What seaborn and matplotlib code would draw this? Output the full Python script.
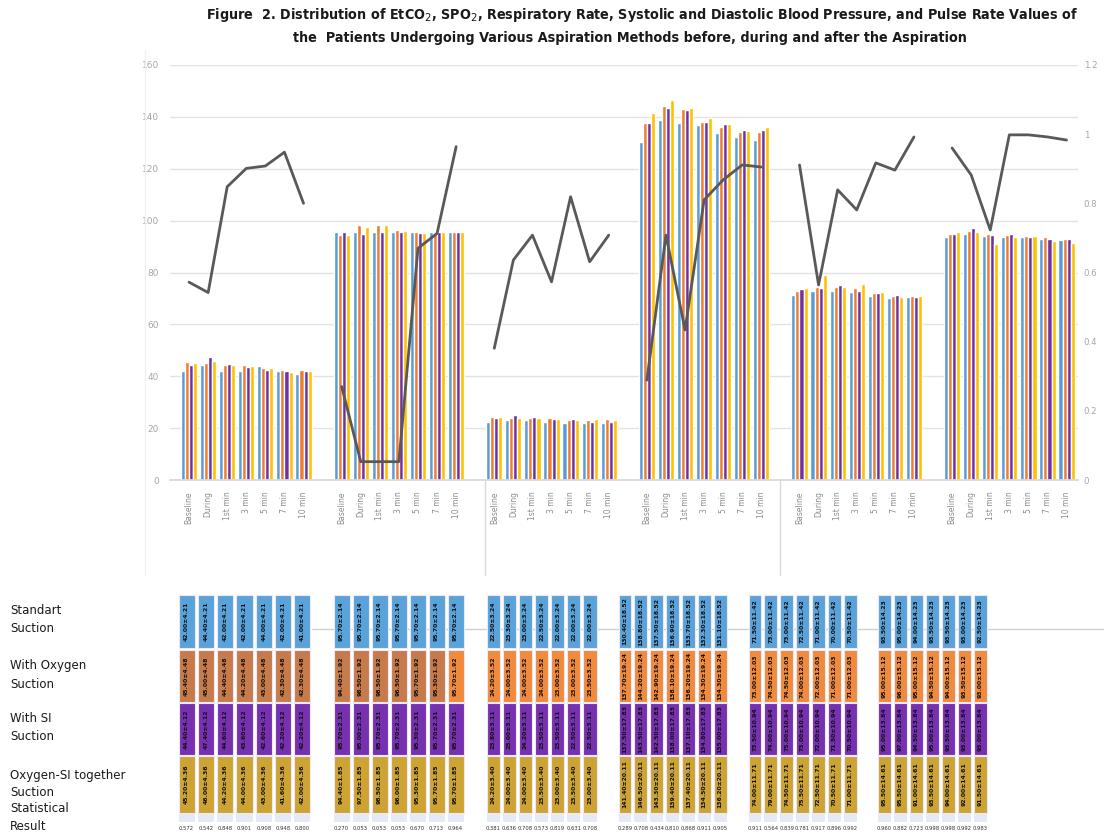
import numpy as np
import pandas as pd
import matplotlib
matplotlib.use("Agg")
import matplotlib.pyplot as plt
import matplotlib.transforms as mtransforms
import seaborn as sns

# ---------------------------------------------------------------- data
measures = ["EtCO2", "SpO2", "Respiratory Rate", "Systolic BP", "Diastolic BP", "Pulse Rate"]
times = ["Baseline", "During", "1st min", "3 min", "5 min", "7 min", "10 min"]
methods = ["Standart Suction", "With Oxygen Suction", "With SI Suction",
           "Oxygen-SI together Suction"]

# mean values, one row per method (Standart, Oxygen, SI, Oxygen-SI)
etco2 = [[42.0, 44.4, 42.0, 42.0, 44.0, 42.0, 41.0],
         [45.4, 45.0, 44.4, 44.2, 43.0, 42.3, 42.3],
         [44.4, 47.4, 44.6, 43.6, 42.6, 42.2, 42.2],
         [45.2, 46.0, 44.2, 44.0, 43.0, 41.6, 42.0]]
spo2 = [[95.7, 95.7, 95.7, 95.7, 95.7, 95.7, 95.7],
        [94.4, 98.5, 98.5, 96.5, 95.7, 95.3, 95.7],
        [95.7, 95.0, 95.7, 95.7, 95.3, 95.7, 95.7],
        [94.4, 97.5, 98.5, 96.0, 95.3, 95.7, 95.7]]
resp_rate = [[22.5, 23.3, 23.0, 22.5, 22.0, 22.0, 22.0],
             [24.2, 24.0, 24.0, 24.0, 23.0, 23.0, 23.5],
             [23.8, 25.0, 24.2, 23.5, 23.5, 22.5, 22.5],
             [24.2, 24.0, 24.0, 23.5, 23.0, 23.5, 23.0]]
systolic = [[130.4, 138.8, 137.5, 136.9, 133.7, 132.3, 131.1],
            [137.7, 144.2, 142.9, 138.1, 136.2, 134.3, 134.3],
            [137.5, 143.5, 142.5, 138.0, 137.1, 134.8, 135.0],
            [141.4, 146.5, 143.3, 139.4, 137.4, 134.5, 136.2]]
diastolic = [[71.5, 73.0, 73.0, 72.5, 71.0, 70.0, 70.5],
             [73.0, 74.5, 74.5, 74.0, 72.0, 71.0, 71.0],
             [73.5, 74.0, 75.0, 73.0, 72.0, 71.5, 70.5],
             [74.0, 79.0, 74.5, 75.5, 72.5, 70.5, 71.0]]
pulse = [[93.5, 95.0, 94.0, 93.5, 93.5, 93.0, 92.5],
         [95.0, 96.0, 95.0, 94.5, 94.0, 93.5, 93.0],
         [95.0, 97.0, 94.5, 95.0, 93.5, 93.0, 93.0],
         [95.5, 95.5, 91.0, 93.5, 94.0, 92.0, 91.5]]

# standard deviations per method
sd_etco2 = [4.21, 4.48, 4.12, 4.36]
sd_spo2 = [2.14, 1.92, 2.31, 1.85]
sd_resp_rate = [3.24, 3.52, 3.11, 3.40]
sd_systolic = [18.52, 19.24, 17.83, 20.11]
sd_diastolic = [11.42, 12.03, 10.94, 11.71]
sd_pulse = [14.23, 15.12, 13.84, 14.61]

# statistical result (p) per time point
p_etco2 = [0.572, 0.542, 0.848, 0.901, 0.908, 0.948, 0.800]
p_spo2 = [0.270, 0.053, 0.053, 0.053, 0.670, 0.713, 0.964]
p_resp_rate = [0.381, 0.636, 0.708, 0.573, 0.819, 0.631, 0.708]
p_systolic = [0.289, 0.708, 0.434, 0.810, 0.868, 0.911, 0.905]
p_diastolic = [0.911, 0.564, 0.839, 0.781, 0.917, 0.896, 0.992]
p_pulse = [0.960, 0.882, 0.723, 0.998, 0.998, 0.992, 0.983]

means = [etco2, spo2, resp_rate, systolic, diastolic, pulse]
sds = [sd_etco2, sd_spo2, sd_resp_rate, sd_systolic, sd_diastolic, sd_pulse]
pvals = [p_etco2, p_spo2, p_resp_rate, p_systolic, p_diastolic, p_pulse]

# ---------------------------------------------------------------- styling
bar_colors = ["#5B9BD5", "#ED7D31", "#7030A0", "#FFC000"]
cell_colors = ["#5AA2DA", "#F08A3C", "#7630B0", "#CDA434"]
cell_brown = "#C77B4B"
line_color = "#595959"
tick_color = "#A6A6A6"
W, H = 1104, 835

# ---------------------------------------------------------------- long table
n_t = len(times)
step = n_t + 1  # one empty slot between measures
slot_order = []
for g in range(len(measures)):
    slot_order += [f"{g}-{t}" for t in range(n_t)]
    if g < len(measures) - 1:
        slot_order.append(f"gap{g}")

rows = []
for g, m in enumerate(measures):
    for k, meth in enumerate(methods):
        for t in range(n_t):
            rows.append({"slot": f"{g}-{t}", "method": meth, "value": means[g][k][t]})
df = pd.DataFrame(rows)

line_rows = []
for g, m in enumerate(measures):
    for t in range(n_t):
        line_rows.append({"measure": m, "pos": g * step + t, "p": pvals[g][t]})
ldf = pd.DataFrame(line_rows)

# ---------------------------------------------------------------- figure
sns.set_theme(style="white")
plt.rcParams["font.family"] = ["DejaVu Sans"]
fig = plt.figure(figsize=(W / 100, H / 100), dpi=100)

ax = fig.add_axes([170 / W, 1 - 480 / H, (1078 - 170) / W, (480 - 65) / H])
sns.barplot(data=df, x="slot", y="value", hue="method", order=slot_order,
            hue_order=methods, palette=bar_colors, width=0.85, saturation=1,
            errorbar=None, legend=False, ax=ax, zorder=2)
ax.set_ylim(0, 160)
ax.set_yticks(range(0, 161, 20))
ax.yaxis.grid(True, color="#E3E3E3", linewidth=1)
ax.set_axisbelow(True)
for s in ["left", "right", "top"]:
    ax.spines[s].set_visible(False)
ax.spines["bottom"].set_color("#D9D9D9")
ax.set_xlabel("")
ax.set_ylabel("")
tick_pos = [g * step + t for g in range(len(measures)) for t in range(n_t)]
ax.set_xticks(tick_pos)
ax.set_xticklabels(times * len(measures), rotation=90, fontsize=5.5, color="#8C8C8C")
ax.tick_params(axis="both", length=0)
ax.tick_params(axis="y", labelsize=6.5, labelcolor=tick_color, pad=8)
ax.tick_params(axis="x", pad=8)

ax2 = ax.twinx()
sns.lineplot(data=ldf, x="pos", y="p", units="measure", estimator=None,
             color=line_color, linewidth=2, sort=False, ax=ax2, zorder=3)
ax2.set_ylim(0, 1.2)
ax2.set_yticks([0, 0.2, 0.4, 0.6, 0.8, 1.0, 1.2])
ax2.set_yticklabels(["0", "0.2", "0.4", "0.6", "0.8", "1", "1.2"])
ax2.tick_params(axis="y", length=0, labelsize=6.2, labelcolor=tick_color, pad=4)
ax2.set_xlabel("")
ax2.set_ylabel("")
for s in ax2.spines.values():
    s.set_visible(False)
ax.set_xlim(-1.0, 46.6)

# separators of the category axis
trans = mtransforms.blended_transform_factory(ax.transData, ax.transAxes)
for xs in [15.5, 31.0]:
    ax.plot([xs, xs], [0, -0.229], transform=trans, color="#DADADA",
            linewidth=1, clip_on=False)

# faint chart-area frame on the left
fig.add_artist(plt.Line2D([145 / W, 145 / W], [1 - 575 / H, 1 - 50 / H],
                          color="#F0F0F0", linewidth=1))

# ---------------------------------------------------------------- title
title1 = ("Figure  2. Distribution of EtCO$_2$, SPO$_2$, Respiratory Rate, Systolic and "
          "Diastolic Blood Pressure, and Pulse Rate Values of")
title2 = "the  Patients Undergoing Various Aspiration Methods before, during and after the Aspiration"
fig.text(642 / W, 1 - 15 / H, title1, ha="center", va="center", fontsize=10.3,
         fontweight="bold", fontstretch="condensed", color="#1A1A1A")
fig.text(630 / W, 1 - 38 / H, title2, ha="center", va="center", fontsize=10.3,
         fontweight="bold", fontstretch="condensed", color="#1A1A1A")

# ---------------------------------------------------------------- value table
axt = fig.add_axes([0, 0, 1, (835 - 590) / H])
axt.set_xlim(0, W)
axt.set_ylim(835, 590)
axt.axis("off")
axt.plot([312, W], [629, 629], color="#D0D0D0", linewidth=1, zorder=0)

row_top = [595, 650, 703, 756, 814]
row_h = [53, 52, 52, 57, 21]
group_left = [177, 332, 485, 617, 747, 876]
group_width = [135, 133, 113, 111, 111, 112]

for g in range(len(measures)):
    pitch = group_width[g] / n_t
    centers = [group_left[g] + pitch * (t + 0.5) for t in range(n_t)]
    cw = pitch - 3
    for k in range(len(methods)):
        cols = [cell_colors[k]] * n_t
        if k == 1 and g < 2:
            cols = [cell_brown] * n_t
            if g == 1:
                cols[-1] = cell_colors[1]
        axt.bar(centers, [row_h[k]] * n_t, bottom=row_top[k], width=cw,
                color=cols, edgecolor="#ECE8F6", linewidth=0.8, zorder=2)
        for t in range(n_t):
            axt.text(centers[t], row_top[k] + row_h[k] / 2,
                     f"{means[g][k][t]:.2f}\u00b1{sds[g][k]:.2f}",
                     rotation=90, ha="center", va="center", fontsize=4.4,
                     fontweight="bold", color="#111111", zorder=3)
    axt.bar(centers, [8] * n_t, bottom=row_top[4], width=cw, color="#E6EAF6",
            edgecolor="none", zorder=2)
    for t in range(n_t):
        axt.text(centers[t], 828, f"{pvals[g][t]:.3f}", ha="center", va="center",
                 fontsize=3.8, color="#333333", zorder=3)

# row captions
captions = [("Standart", 610), ("Suction", 629), ("With Oxygen", 666), ("Suction", 684),
            ("With SI", 719), ("Suction", 737), ("Oxygen-SI together", 775),
            ("Suction", 792), ("Statistical", 809), ("Result", 827)]
for txt, yy in captions:
    fig.text(10 / W, 1 - yy / H, txt, ha="left", va="center", fontsize=8.5,
             color="#1A1A1A")

fig.savefig("out.png", dpi=100)
